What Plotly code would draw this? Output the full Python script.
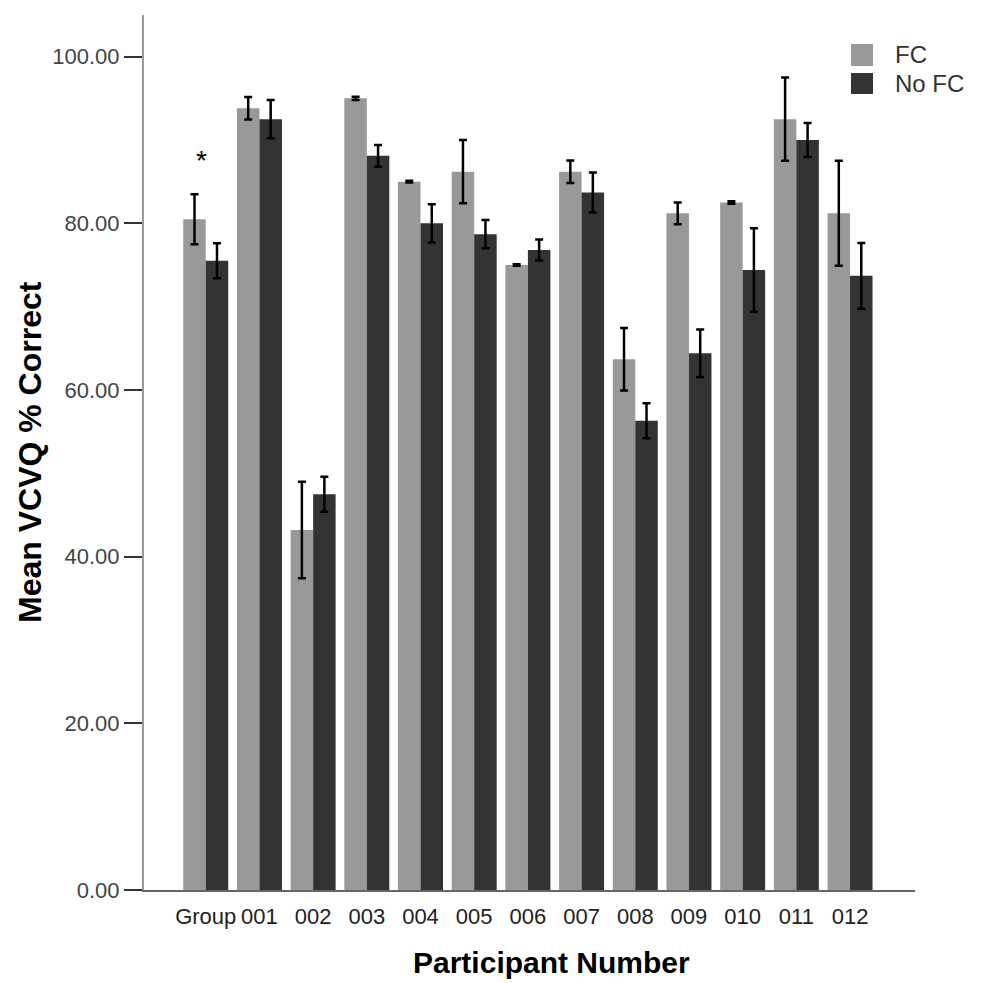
import plotly.graph_objects as go

categories = ["Group", "001", "002", "003", "004", "005", "006", "007", "008", "009", "010", "011", "012"]
fc_mean = [80.5, 93.8, 43.2, 95.0, 85.0, 86.2, 75.0, 86.2, 63.7, 81.2, 82.5, 92.5, 81.2]
fc_err = [3.0, 1.35, 5.8, 0.2, 0.1, 3.8, 0.1, 1.35, 3.75, 1.3, 0.15, 5.0, 6.3]
nofc_mean = [75.5, 92.5, 47.5, 88.1, 80.0, 78.7, 76.8, 83.7, 56.3, 64.4, 74.4, 90.0, 73.7]
nofc_err = [2.1, 2.3, 2.1, 1.3, 2.3, 1.7, 1.25, 2.4, 2.1, 2.85, 5.0, 2.05, 3.95]
series_names = ["FC", "No FC"]
series_colors = ["#999999", "#333333"]
y_ticks = [0, 20, 40, 60, 80, 100]

FONT = "Liberation Sans, Arial, sans-serif"

# the page body has an 8px default margin; compensate so the plot area
# sits at the same screen pixels as the reference (x 144-915, y 15-890)
OFF = 8
W, H = 981 - OFF, 983 - OFF
PL, PR, PT, PB = 144 - OFF, 66, 15 - OFF, 93
PW, PH = W - PL - PR, H - PT - PB


def px_x(px):
    return (px - 144) / PW


def px_y(py):
    return (890 - py) / PH


fig = go.Figure()
for name, vals, errs, col in [(series_names[0], fc_mean, fc_err, series_colors[0]),
                              (series_names[1], nofc_mean, nofc_err, series_colors[1])]:
    fig.add_trace(go.Bar(
        x=categories, y=vals, name=name,
        marker=dict(color=col, line=dict(width=0)),
        error_y=dict(type="data", array=errs, visible=True, color="#000000",
                     thickness=2.5, width=4),
        showlegend=False,
    ))

fig.update_layout(
    width=W, height=H,
    margin=dict(l=PL, r=PR, t=PT, b=PB),
    paper_bgcolor="white", plot_bgcolor="white",
    barmode="group", bargap=0.162, bargroupgap=0,
    font=dict(family=FONT, color="#333333"),
    xaxis=dict(
        type="category", range=[-1.15, 13.21],
        showline=True, linecolor="#666666", linewidth=1.5,
        ticks="", showgrid=False, zeroline=False,
        tickfont=dict(size=22, color="#222222", family=FONT),
        ticklabelstandoff=6,
    ),
    yaxis=dict(
        range=[0, 105], tickvals=y_ticks, tickformat=".2f",
        showline=True, linecolor="#999999", linewidth=2,
        ticks="outside", ticklen=18, tickwidth=1.5, tickcolor="#333333",
        showgrid=False, zeroline=False,
        tickfont=dict(size=22, color="#444444", family=FONT),
    ),
)

# axis titles
fig.add_annotation(text="<b>Mean VCVQ % Correct</b>", xref="paper", yref="paper",
                   x=px_x(30), y=px_y(452), xanchor="center", yanchor="middle",
                   textangle=-90, showarrow=False,
                   font=dict(size=32, color="#000000", family=FONT))
fig.add_annotation(text="<b>Participant Number</b>", xref="paper", yref="paper",
                   x=px_x(551), y=px_y(962), xanchor="center", yanchor="middle",
                   showarrow=False,
                   font=dict(size=30, color="#000000", family=FONT))

# significance marker
fig.add_annotation(text="*", x="Group", y=87.5, xref="x", yref="y", xshift=-4,
                   showarrow=False, font=dict(size=28, color="#000000", family=FONT))

# legend drawn manually
leg = [(series_names[0], series_colors[0], 44, 66), (series_names[1], series_colors[1], 73, 94)]
for name, col, ytop, ybot in leg:
    fig.add_shape(type="rect", xref="paper", yref="paper",
                  x0=px_x(851), x1=px_x(873),
                  y0=px_y(ybot), y1=px_y(ytop),
                  fillcolor=col, line=dict(width=0))
    fig.add_annotation(text=name, xref="paper", yref="paper",
                       x=px_x(893), y=px_y((ytop + ybot) / 2),
                       xanchor="left", yanchor="middle", showarrow=False,
                       font=dict(size=24, color="#333333", family=FONT))

fig.write_html("out.html")
